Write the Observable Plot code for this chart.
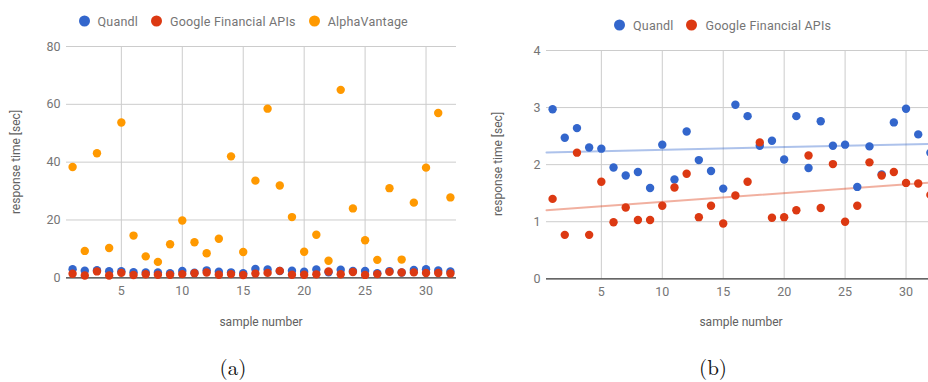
<!DOCTYPE html>
<html>
<head>
<meta charset="utf-8">
<script src="https://cdn.jsdelivr.net/npm/d3@7"></script>
<script src="https://cdn.jsdelivr.net/npm/@observablehq/plot@0.6"></script>
<style>
  html, body { margin: 0; padding: 0; background: #fff; }
  body { width: 928px; height: 382px; position: relative; overflow: hidden; font-family: Roboto, sans-serif; }
  .panel { position: absolute; top: 0; }
  .abs { position: absolute; white-space: nowrap; }
  .legend { font-size: 12.5px; color: #757575; letter-spacing: 0.2px; }
  .legend .sw { display: inline-block; width: 11px; height: 11px; border-radius: 50%; vertical-align: -1px; margin-right: 8px; }
  .axtitle { font-size: 12px; color: #616161; }
  .caption { font-family: "Latin Modern Roman", "Liberation Serif", serif; font-size: 21px; line-height: 1; color: #111; }
</style>
</head>
<body>
<script>
// Response times per sample for each quote API
const samples = [1, 2, 3, 4, 5, 6, 7, 8, 9, 10, 11, 12, 13, 14, 15, 16,
                 17, 18, 19, 20, 21, 22, 23, 24, 25, 26, 27, 28, 29, 30, 31, 32];
const quandl = [2.97, 2.47, 2.64, 2.30, 2.28, 1.95, 1.81, 1.87, 1.59, 2.35, 1.74, 2.58, 2.08, 1.89, 1.58, 3.05,
                2.85, 2.33, 2.42, 2.09, 2.85, 1.94, 2.76, 2.33, 2.35, 1.61, 2.32, 1.83, 2.74, 2.98, 2.53, 2.21];
const google = [1.40, 0.77, 2.21, 0.77, 1.70, 0.99, 1.25, 1.03, 1.03, 1.28, 1.60, 1.84, 1.08, 1.28, 0.97, 1.46,
                1.70, 2.39, 1.07, 1.08, 1.20, 2.16, 1.24, 2.01, 1.00, 1.28, 2.04, 1.81, 1.87, 1.68, 1.67, 1.47];
const alphaVantage = [38.3, 9.3, 43.1, 10.3, 53.7, 14.6, 7.4, 5.5, 11.6, 19.8, 12.3, 8.5, 13.5, 42.0, 8.9, 33.6,
                      58.5, 31.9, 21.0, 9.0, 14.9, 5.9, 65.0, 24.0, 13.0, 6.2, 31.0, 6.3, 26.0, 38.1, 57.0, 27.8];

const seriesNames = ["Quandl", "Google Financial APIs", "AlphaVantage"];
const seriesColors = ["#3366cc", "#dc3912", "#ff9900"];

const xTicks = [5, 10, 15, 20, 25, 30];
const yTicksA = [0, 20, 40, 60, 80];
const yTicksB = [0, 1, 2, 3, 4];
const xTitle = "sample number";
const yTitle = "response time [sec]";
const captions = ["(a)", "(b)"];

const xDomain = [0.5, 32.5];

const rows = (vals) => samples.map((s, i) => ({x: s, y: vals[i]}));

// least-squares fit, drawn across the whole x domain
function trend(vals) {
  const mx = d3.mean(samples), my = d3.mean(vals);
  let num = 0, den = 0;
  samples.forEach((s, i) => { num += (s - mx) * (vals[i] - my); den += (s - mx) ** 2; });
  const b = num / den, a = my - b * mx;
  return xDomain.map(x => ({x, y: a + b * x}));
}

function scatter({left, width, marginTop, marginBottom, marginLeft, yTicks, series, trends}) {
  const height = 300;
  const marks = [
    Plot.ruleX(xTicks, {stroke: "#cccccc", strokeWidth: 1}),
    Plot.ruleY(yTicks.filter(v => v > 0), {stroke: "#cccccc", strokeWidth: 1}),
    Plot.ruleY([0], {stroke: "#333333", strokeWidth: 1.2})
  ];
  for (const t of trends) {
    marks.push(Plot.line(trend(t.values), {x: "x", y: "y", stroke: t.color, strokeOpacity: 0.4, strokeWidth: 2}));
  }
  for (const s of series) {
    marks.push(Plot.dot(rows(s.values), {x: "x", y: "y", r: 4.2, fill: s.color, stroke: null}));
  }
  const svg = Plot.plot({
    width, height, marginTop, marginBottom, marginLeft, marginRight: 14,
    style: {fontFamily: "Roboto, sans-serif", fontSize: "12.5px", color: "#757575", background: "transparent", overflow: "visible"},
    x: {domain: xDomain, ticks: xTicks, tickSize: 0, tickPadding: 8, label: null, tickFormat: d3.format("d")},
    y: {domain: [0, yTicks[yTicks.length - 1]], ticks: yTicks, tickSize: 0, tickPadding: 6, label: null, tickFormat: d3.format("d")},
    marks
  });
  const div = document.createElement("div");
  div.className = "panel";
  div.style.left = left + "px";
  div.style.width = width + "px";
  div.style.height = "382px";
  div.appendChild(svg);
  document.body.appendChild(div);
  return {div, plotTop: marginTop, plotBottom: height - marginBottom, plotLeft: marginLeft, plotRight: width - 14};
}

function addText(parent, cls, text, x, y, rotate) {
  const el = document.createElement("div");
  el.className = "abs " + cls;
  el.textContent = text;
  el.style.left = x + "px";
  el.style.top = y + "px";
  el.style.transform = "translate(-50%, -50%)" + (rotate ? " rotate(-90deg)" : "");
  parent.appendChild(el);
  return el;
}

function addLegend(parent, items, x, y) {
  const el = document.createElement("div");
  el.className = "abs legend";
  el.style.left = x + "px";
  el.style.top = y + "px";
  el.style.transform = "translateY(-50%)";
  items.forEach((it, i) => {
    const span = document.createElement("span");
    span.style.marginRight = i < items.length - 1 ? "13px" : "0";
    const sw = document.createElement("span");
    sw.className = "sw";
    sw.style.background = it.color;
    span.appendChild(sw);
    span.appendChild(document.createTextNode(it.name));
    el.appendChild(span);
  });
  parent.appendChild(el);
}

// (a) all three services
const a = scatter({
  left: 0, width: 470, marginTop: 46, marginBottom: 22.7, marginLeft: 66, yTicks: yTicksA,
  series: [
    {values: quandl, color: seriesColors[0]},
    {values: google, color: seriesColors[1]},
    {values: alphaVantage, color: seriesColors[2]}
  ],
  trends: []
});
addLegend(a.div, seriesNames.map((n, i) => ({name: n, color: seriesColors[i]})), 78.5, 21);
addText(a.div, "axtitle", xTitle, (a.plotLeft + a.plotRight) / 2, 322);
addText(a.div, "axtitle", yTitle, 16, (a.plotTop + a.plotBottom) / 2, true);
addText(a.div, "caption", captions[0], 233, 366);

// (b) Quandl and Google with linear trends
const b = scatter({
  left: 470, width: 480, marginTop: 50, marginBottom: 21.7, marginLeft: 76, yTicks: yTicksB,
  series: [
    {values: quandl, color: seriesColors[0]},
    {values: google, color: seriesColors[1]}
  ],
  trends: [
    {values: quandl, color: seriesColors[0]},
    {values: google, color: seriesColors[1]}
  ]
});
addLegend(b.div, seriesNames.slice(0, 2).map((n, i) => ({name: n, color: seriesColors[i]})), 144, 25);
addText(b.div, "axtitle", xTitle, 271, 322);
addText(b.div, "axtitle", yTitle, 28, (b.plotTop + b.plotBottom) / 2, true);
addText(b.div, "caption", captions[1], 243, 366);
</script>
</body>
</html>
